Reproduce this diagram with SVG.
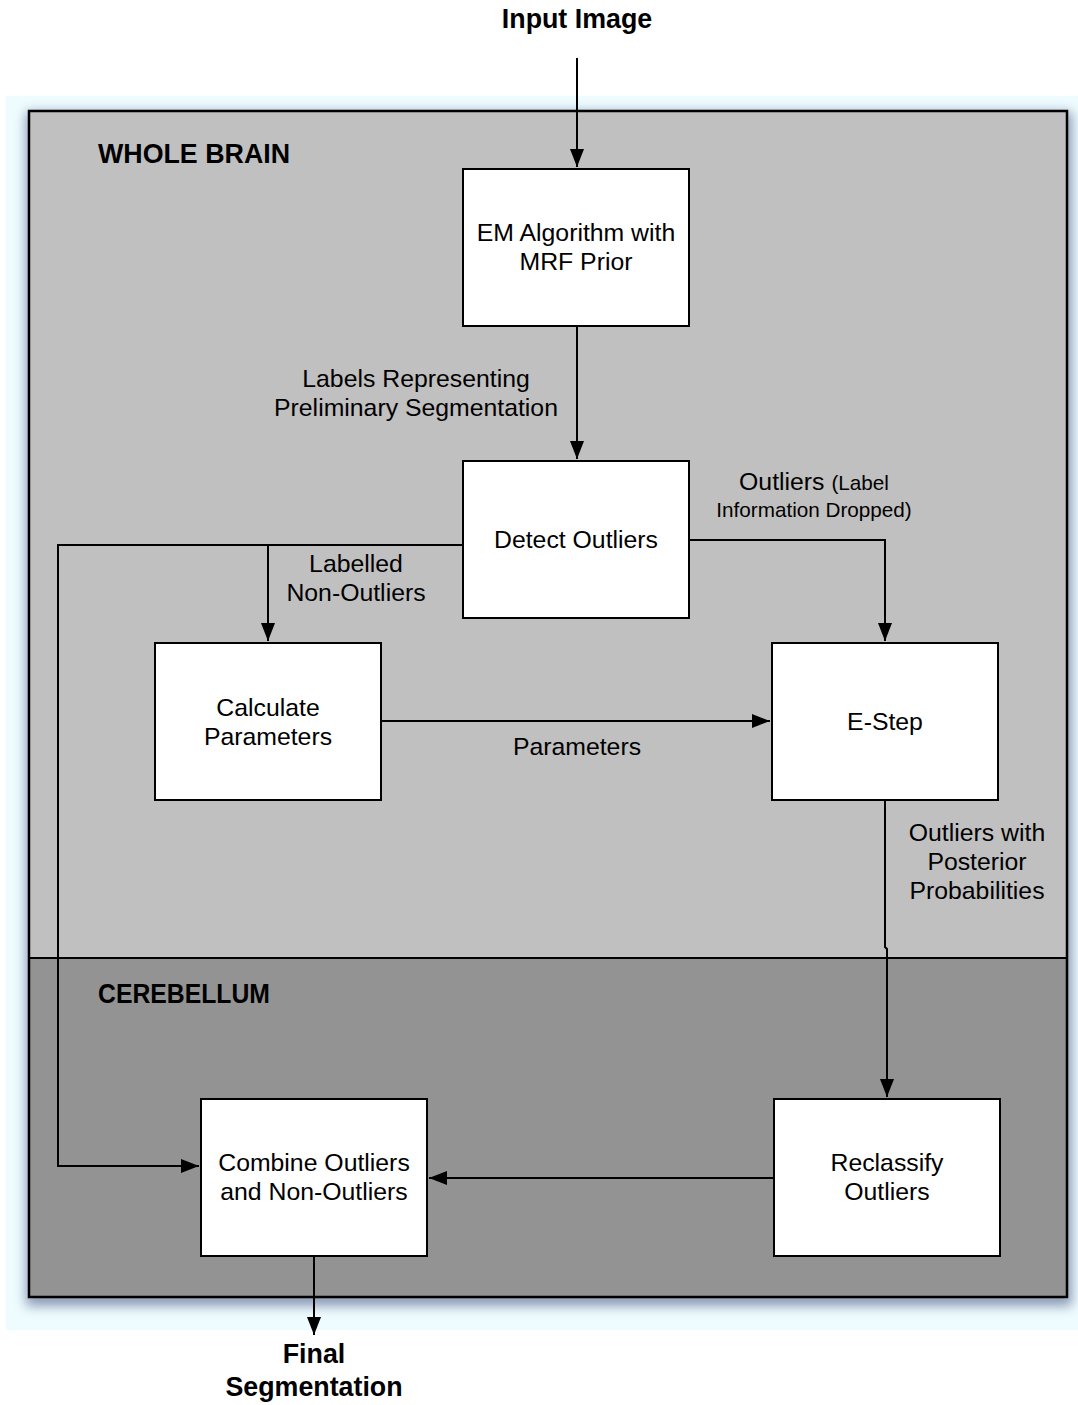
<svg xmlns="http://www.w3.org/2000/svg" width="1078" height="1405" viewBox="0 0 1078 1405">
<style>
text{font-family:"Liberation Sans",Arial,sans-serif;fill:#000}
.t{font-size:24.8px;text-anchor:middle}
.b{font-size:26.8px;font-weight:bold}
.s{font-size:20.7px}
.node{fill:#fff;stroke:#000;stroke-width:2}
.c{fill:none;stroke:#000;stroke-width:2}
</style>
<defs>
<marker id="ah" viewBox="0 0 18 14" refX="18" refY="7" markerWidth="18" markerHeight="14" markerUnits="userSpaceOnUse" orient="auto">
<path d="M0,0 L18,7 L0,14 Z" fill="#000"/>
</marker>
<filter id="sh" x="-10%" y="-10%" width="120%" height="120%">
<feGaussianBlur stdDeviation="6"/>
</filter>
</defs>
<rect x="6" y="96" width="1072" height="1234" fill="#eefcff"/>
<rect x="26" y="112" width="1046" height="1194" fill="#3a4a78" opacity="0.55" filter="url(#sh)"/>
<g id="whole-brain">
<rect x="29" y="111" width="1038" height="847" fill="#c0c0c0"/>
<text class="b" x="98" y="163">WHOLE BRAIN</text>
</g>
<g id="cerebellum">
<rect x="29" y="958" width="1038" height="339" fill="#939393"/>
<text class="b" x="98" y="1003" font-size="25" textLength="172" lengthAdjust="spacingAndGlyphs">CEREBELLUM</text>
</g>
<rect x="29" y="111" width="1038" height="1186" fill="none" stroke="#000" stroke-width="2.5"/>
<line x1="29" y1="958" x2="1067" y2="958" stroke="#000" stroke-width="2"/>
<g id="connectors">
<line class="c" x1="577" y1="58" x2="577" y2="167" marker-end="url(#ah)"/>
<line class="c" x1="577" y1="326" x2="577" y2="459" marker-end="url(#ah)"/>
<polyline class="c" points="463,545 58,545 58,1166 199,1166" marker-end="url(#ah)"/>
<line class="c" x1="268" y1="545" x2="268" y2="641" marker-end="url(#ah)"/>
<polyline class="c" points="689,540 885,540 885,641" marker-end="url(#ah)"/>
<line class="c" x1="381" y1="721" x2="770" y2="721" marker-end="url(#ah)"/>
<polyline class="c" points="885,800 885,947 887,949 887,1097" marker-end="url(#ah)"/>
<line class="c" x1="774" y1="1178" x2="429" y2="1178" marker-end="url(#ah)"/>
<line class="c" x1="314" y1="1256" x2="314" y2="1335" marker-end="url(#ah)"/>
<text class="t" x="416" y="387">Labels Representing</text>
<text class="t" x="416" y="416">Preliminary Segmentation</text>
<text class="t" x="356" y="572">Labelled</text>
<text class="t" x="356" y="601">Non-Outliers</text>
<text x="814" y="490" text-anchor="middle"><tspan font-size="24.8">Outliers </tspan><tspan class="s">(Label</tspan></text>
<text class="s" x="814" y="517" text-anchor="middle">Information Dropped)</text>
<text class="t" x="577" y="755">Parameters</text>
<text class="t" x="977" y="841">Outliers with</text>
<text class="t" x="977" y="870">Posterior</text>
<text class="t" x="977" y="899">Probabilities</text>
</g>
<g id="input-image"><text class="b" x="577" y="28" text-anchor="middle">Input Image</text></g>
<g id="final-segmentation">
<text class="b" x="314" y="1363" text-anchor="middle">Final</text>
<text class="b" x="314" y="1396" text-anchor="middle">Segmentation</text>
</g>
<g id="em-algorithm">
<rect class="node" x="463" y="169" width="226" height="157"/>
<text class="t" x="576" y="241">EM Algorithm with</text>
<text class="t" x="576" y="270">MRF Prior</text>
</g>
<g id="detect-outliers">
<rect class="node" x="463" y="461" width="226" height="157"/>
<text class="t" x="576" y="548">Detect Outliers</text>
</g>
<g id="calculate-parameters">
<rect class="node" x="155" y="643" width="226" height="157"/>
<text class="t" x="268" y="716">Calculate</text>
<text class="t" x="268" y="745">Parameters</text>
</g>
<g id="e-step">
<rect class="node" x="772" y="643" width="226" height="157"/>
<text class="t" x="885" y="730">E-Step</text>
</g>
<g id="combine">
<rect class="node" x="201" y="1099" width="226" height="157"/>
<text class="t" x="314" y="1171">Combine Outliers</text>
<text class="t" x="314" y="1200">and Non-Outliers</text>
</g>
<g id="reclassify">
<rect class="node" x="774" y="1099" width="226" height="157"/>
<text class="t" x="887" y="1171">Reclassify</text>
<text class="t" x="887" y="1200">Outliers</text>
</g>
</svg>
